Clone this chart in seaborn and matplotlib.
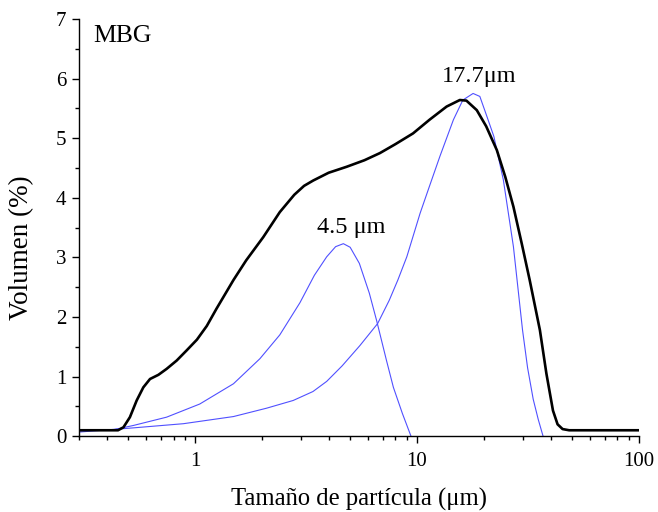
import matplotlib
matplotlib.use("Agg")
import matplotlib.pyplot as plt
import seaborn as sns
from matplotlib.ticker import LogLocator, NullFormatter, MultipleLocator, FixedLocator

# Data
black_x = [0.3, 0.45, 0.476, 0.509, 0.546, 0.585, 0.627, 0.684, 0.745, 0.827, 0.917, 1.02, 1.13, 1.25, 1.39,
           1.49, 1.7, 2.03, 2.41, 2.8, 3.1, 3.41, 4.0, 4.82, 5.8, 6.81, 8.0, 9.6, 11.4, 13.6, 15.6, 16.7, 18.6,
           20.5, 22.9, 25.0, 27.2, 29.7, 32.2, 35.8, 38.3, 41.0, 43.0, 45.3, 48.5, 100]
black_y = [0.1, 0.1, 0.15, 0.32, 0.60, 0.82, 0.96, 1.03, 1.13, 1.27, 1.44, 1.62, 1.85, 2.14, 2.43,
           2.62, 2.95, 3.34, 3.76, 4.05, 4.20, 4.29, 4.42, 4.52, 4.63, 4.75, 4.90, 5.08, 5.31, 5.53, 5.64, 5.63, 5.47,
           5.20, 4.80, 4.35, 3.85, 3.22, 2.62, 1.78, 1.05, 0.43, 0.20, 0.12, 0.1, 0.1]

blue1_x = [0.3, 0.43, 0.527, 0.745, 1.05, 1.49, 1.96, 2.41, 2.97, 3.45, 3.92, 4.3, 4.66, 5.0, 5.5, 6.1,
           6.58, 7.29, 7.83, 8.6, 9.4]
blue1_y = [0.09, 0.11, 0.18, 0.32, 0.54, 0.88, 1.30, 1.70, 2.24, 2.70, 3.01, 3.18, 3.23, 3.17, 2.90, 2.40,
           1.94, 1.27, 0.82, 0.38, 0.0]

blue2_x = [0.3, 0.527, 0.886, 1.49, 2.1, 2.77, 3.4, 3.92, 4.6, 5.53, 6.65, 7.5, 8.2, 9.0, 10.33, 11.4,
           12.7, 14.6, 16.1, 17.9, 19.2, 20.5, 22.2, 24.5, 27.2, 29.9, 31.5, 33.4, 35.2, 37.0]
blue2_y = [0.07, 0.14, 0.21, 0.33, 0.47, 0.60, 0.75, 0.92, 1.18, 1.52, 1.89, 2.28, 2.62, 3.01, 3.74, 4.20,
           4.70, 5.31, 5.64, 5.75, 5.70, 5.40, 5.03, 4.30, 3.18, 1.78, 1.15, 0.62, 0.28, 0.0]

x_ticks = [1, 10, 100]
x_ticklabels = ["1", "10", "100"]
y_ticks = [0, 1, 2, 3, 4, 5, 6, 7]

sns.set_theme(style="ticks")
plt.rcParams['font.family'] = ['Liberation Serif', 'DejaVu Serif']

fig = plt.figure(figsize=(6.58, 5.12), dpi=100)
ax = fig.add_axes([0.120, 0.148, 0.851, 0.815])

blue = "#5050ff"
sns.lineplot(x=blue1_x, y=blue1_y, ax=ax, color=blue, lw=0.8, sort=False, estimator=None)
sns.lineplot(x=blue2_x, y=blue2_y, ax=ax, color=blue, lw=0.8, sort=False, estimator=None)
sns.lineplot(x=black_x, y=black_y, ax=ax, color="black", lw=1.9, sort=False, estimator=None)

ax.set_xscale("log")
ax.set_xlim(0.3, 100)
ax.set_ylim(0, 7)
ax.xaxis.set_major_locator(FixedLocator(x_ticks))
ax.set_xticklabels(x_ticklabels)
ax.xaxis.set_minor_locator(LogLocator(base=10, subs=range(2, 10)))
ax.xaxis.set_minor_formatter(NullFormatter())
ax.set_yticks(y_ticks)
ax.yaxis.set_minor_locator(MultipleLocator(0.5))

for s in ["top", "right"]:
    ax.spines[s].set_visible(False)
for s in ["left", "bottom"]:
    ax.spines[s].set_linewidth(1.0)
    ax.spines[s].set_color("black")

ax.tick_params(axis="both", which="major", direction="out", length=5, width=1.0,
               labelsize=15, colors="black", pad=4)
ax.tick_params(axis="both", which="minor", direction="out", length=3, width=1.0, colors="black")
ax.tick_params(axis="x", which="major", pad=6)

ax.set_xlabel("Tamaño de partícula (μm)", fontsize=17.7, color="black")
ax.set_ylabel("Volumen (%)", fontsize=19.5, color="black")
ax.xaxis.set_label_coords(0.5, -0.125)
ax.yaxis.set_label_coords(-0.080, 0.453)

ax.text(0.025, 0.959, "MBG", transform=ax.transAxes, fontsize=18.5, ha="left", va="center", color="black")
ax.text(5.04, 3.5, "4.5 μm", fontsize=17.5, ha="center", va="center", color="black")
ax.text(19.1, 6.04, "17.7μm", fontsize=17.5, ha="center", va="center", color="black")

fig.savefig("out.png", dpi=100)
